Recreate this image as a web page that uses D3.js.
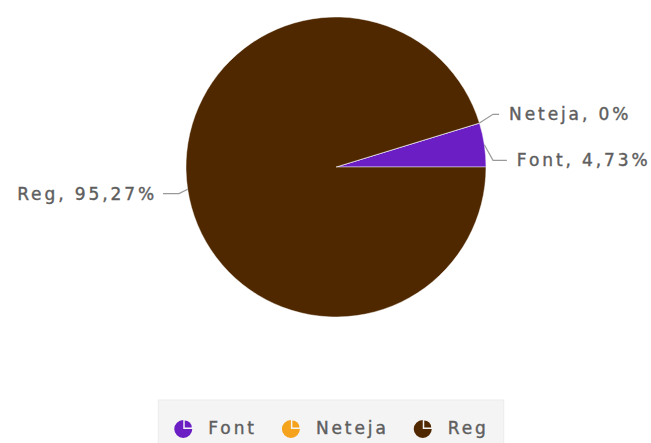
<!DOCTYPE html>
<meta charset="utf-8">
<style>
body { margin: 0; background: #fff; }
text { font-family: "DejaVu Sans", Verdana, sans-serif; }
.lbl, .leg text { font-size: 17px; fill: #5e5e5e; stroke: #5e5e5e; stroke-width: 0.4px; letter-spacing: 2.9px; }
</style>
<body>
<script src="https://cdn.jsdelivr.net/npm/d3@7"></script>
<script>

// slice data
var categories = ["Font", "Neteja", "Reg"];
var values = [4.73, 0, 95.27];
var labels = ["Font, 4,73%", "Neteja, 0%", "Reg, 95,27%"];
var colours = ["#6a1ec4", "#f5a21c", "#4f2800"];

var width = 651, height = 443;
var cx = 336, cy = 167, radius = 150;
var labelDistance = 30;

var svg = d3.select("body").append("svg")
    .attr("width", width)
    .attr("height", height);

var colour = d3.scaleOrdinal().domain(categories).range(colours);

// slices start at 3 o'clock and run anticlockwise
var pie = d3.pie()
    .sort(null)
    .startAngle(Math.PI / 2)
    .endAngle(Math.PI / 2 - 2 * Math.PI)
    .value(function(d) { return d.value; });

var data = categories.map(function(c, i) {
  return { name: c, value: values[i], label: labels[i] };
});

var arcs = pie(data);

var arc = d3.arc().innerRadius(0).outerRadius(radius);

var g = svg.append("g").attr("transform", "translate(" + cx + "," + cy + ")");

g.selectAll("path.slice")
    .data(arcs)
  .enter().append("path")
    .attr("class", "slice")
    .attr("d", arc)
    .style("fill", function(d) { return colour(d.data.name); })
    .style("stroke", "#fff")
    .style("stroke-opacity", 0.45)
    .style("stroke-width", 1);

// label placement, in the style of an outside pie label layout
var items = arcs.map(function(d) {
  var mid = (d.startAngle + d.endAngle) / 2;
  var sx = Math.sin(mid), sy = -Math.cos(mid);
  return {
    d: d,
    right: sx >= 0,
    px: sx * radius, py: sy * radius,
    y: sy * (radius + labelDistance)
  };
});

// push labels on the same side apart
[true, false].forEach(function(side) {
  var list = items.filter(function(it) { return it.right === side; })
      .sort(function(a, b) { return a.y - b.y; });
  for (var i = 1; i < list.length; i++) {
    if (list[i].y - list[i - 1].y < 46) list[i].y = list[i - 1].y + 46;
  }
});

items.forEach(function(it) {
  var R = radius + labelDistance;
  var dx = Math.sqrt(Math.max(0, R * R - it.y * it.y));
  var lx = it.right ? dx + 1 : -dx - 1;
  var bend = it.right ? radius + 7 : -(radius + 7);
  var end = it.right ? lx - 10 : lx + 6;

  g.append("polyline")
      .attr("points", [[it.px, it.py], [bend, it.y], [end, it.y]].join(" "))
      .style("fill", "none")
      .style("stroke", "#999")
      .style("stroke-width", 1.2);

  g.append("text")
      .attr("class", "lbl")
      .attr("x", lx)
      .attr("y", it.y)
      .attr("dy", "0.35em")
      .attr("text-anchor", it.right ? "start" : "end")
      .text(it.d.data.label);
});

// legend
var legend = svg.append("g").attr("class", "leg");
var box = legend.append("rect")
    .attr("fill", "#f4f4f4")
    .attr("stroke", "#ececec");

var iconArc = d3.arc().innerRadius(0).outerRadius(9);
var x = 0, legY = 428;
var groups = [];
categories.forEach(function(c) {
  var it = legend.append("g");
  it.append("path")
      .attr("transform", "translate(" + (x + 10) + "," + (legY + 1) + ")")
      .attr("d", iconArc({ startAngle: Math.PI / 2, endAngle: 2 * Math.PI }))
      .style("fill", colour(c));
  it.append("path")
      .attr("transform", "translate(" + (x + 11.5) + "," + (legY - 0.5) + ")")
      .attr("d", d3.arc().innerRadius(0).outerRadius(7)({ startAngle: 0, endAngle: Math.PI / 2 }))
      .style("fill", colour(c));
  var t = it.append("text")
      .attr("x", x + 35)
      .attr("y", legY)
      .attr("dy", "0.35em")
      .text(c);
  var w = t.node().getComputedTextLength();
  x += 35 + w + 24;
  groups.push(it);
});
var total = x - 24;
var x0 = 331 - total / 2;
groups.forEach(function(it) { it.attr("transform", "translate(" + x0 + ",0)"); });
box.attr("x", x0 - 15).attr("y", 400).attr("width", total + 30).attr("height", 60);

</script>
</body>
